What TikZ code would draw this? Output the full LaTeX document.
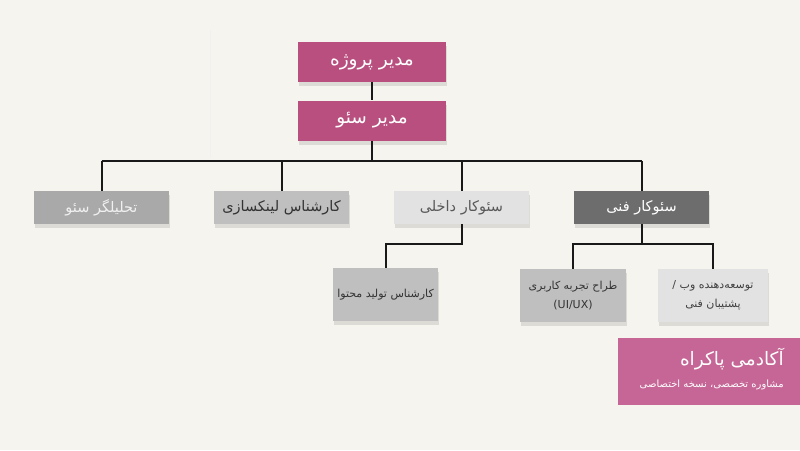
\documentclass[tikz,border=0pt]{standalone}
\usepackage{fontspec}
\usetikzlibrary{shadows}
\TeXXeTstate=1
\newfontfamily\farsifont[Script=Arabic]{DejaVu Sans}
\definecolor{pagebg}{HTML}{F5F4EE}
\definecolor{rosehead}{HTML}{B84F7F}
\definecolor{rosebrand}{HTML}{C66696}
\definecolor{greymid}{HTML}{A9A9A9}
\definecolor{greysoft}{HTML}{BFBFBF}
\definecolor{greypale}{HTML}{E2E2E2}
\definecolor{greydark}{HTML}{6D6D6D}
\definecolor{inkdark}{HTML}{333333}
\newcommand{\fa}[1]{\beginR #1\endR}

\begin{document}
\begin{tikzpicture}[
                    x=1pt, y=-1pt,
                    every node/.style={font=\farsifont},
                    box/.style={rectangle, inner sep=0pt, align=center,
                        drop shadow={shadow xshift=1pt, shadow yshift=-4pt, opacity=0.10, fill=black}},
                    headbox/.style={box, fill=rosehead, text=white, minimum width=148pt, minimum height=40pt, font=\farsifont\fontsize{18.5}{21}\selectfont},
                    rolebox/.style={box, minimum width=135pt, minimum height=33pt, font=\farsifont\fontsize{14.5}{17}\selectfont},
                    subbox/.style={box, minimum height=53pt, font=\farsifont\fontsize{11}{19}\selectfont},
                    link/.style={line width=2pt, draw=black!90}
                ]
                
                % page
                \fill[pagebg] (0,0) rectangle (800,450);
                \draw[black!6, line width=0.8pt] (210,30) -- (210,158);
                
                % managers
                \node[headbox] (pm) at (372,62) {\fa{مدیر پروژه}};
                \node[headbox] (sm) at (372,120.5) {\fa{مدیر سئو}};
                
                % roles
                \node[rolebox, fill=greymid, text=white!94!black] (analyst) at (101.5,207.5) {\fa{تحلیلگر سئو}};
                \node[rolebox, fill=greysoft, text=inkdark] (linker) at (281.5,207.5) {\fa{کارشناس لینکسازی}};
                \node[rolebox, fill=greypale, text=black!65] (inhouse) at (461.5,207.5) {\fa{سئوکار داخلی}};
                \node[rolebox, fill=greydark, text=white] (tech) at (641.5,207.5) {\fa{سئوکار فنی}};
                
                % sub roles
                \node[subbox, fill=greysoft, text=inkdark, minimum width=105pt] (content) at (385.5,294.5) {\fa{کارشناس تولید محتوا}};
                \node[subbox, fill=greysoft, text=inkdark, minimum width=106pt] (uiux) at (573,295.5) {\fa{طراح تجربه کاربری}\\(UI/UX)};
                \node[subbox, fill=greypale, text=black!75, minimum width=110pt] (webdev) at (713,295.5) {\fa{توسعه‌دهنده وب /}\\\fa{پشتیبان فنی}};
                
                % brand
                \node[rectangle, fill=rosebrand, minimum width=182pt, minimum height=67pt, inner sep=0pt] (brand) at (709,371.5) {};
                \node[anchor=east, text=white, font=\farsifont\fontsize{18.5}{20}\selectfont] (brandtitle) at ([xshift=-13pt, yshift=12pt]brand.east) {\fa{آکادمی پاکراه}};
                \node[anchor=east, text=white, font=\farsifont\fontsize{10}{12}\selectfont] (brandsub) at ([xshift=-13pt, yshift=-13pt]brand.east) {\fa{مشاوره تخصصی، نسخه اختصاصی}};
                
                % connectors
                \coordinate (bus) at (372,161);
                \coordinate (inbus) at (461.5,244);
                \coordinate (techbus) at (641.5,244);
                \draw[link] (pm) -- (sm);
                \draw[link] (sm) -- (bus);
                \draw[link] (analyst.north |- bus) -- (tech.north |- bus);
                \foreach \role in {analyst,linker,inhouse,tech}
                    \draw[link] (\role.north) -- (\role.north |- bus);
                \draw[link] (inhouse.south) -- (inbus) -| (content.north);
                \draw[link] (tech.south) -- (techbus);
                \draw[link] (uiux.north) |- (webdev.north |- techbus) -- (webdev.north);
            \end{tikzpicture}
\end{document}
